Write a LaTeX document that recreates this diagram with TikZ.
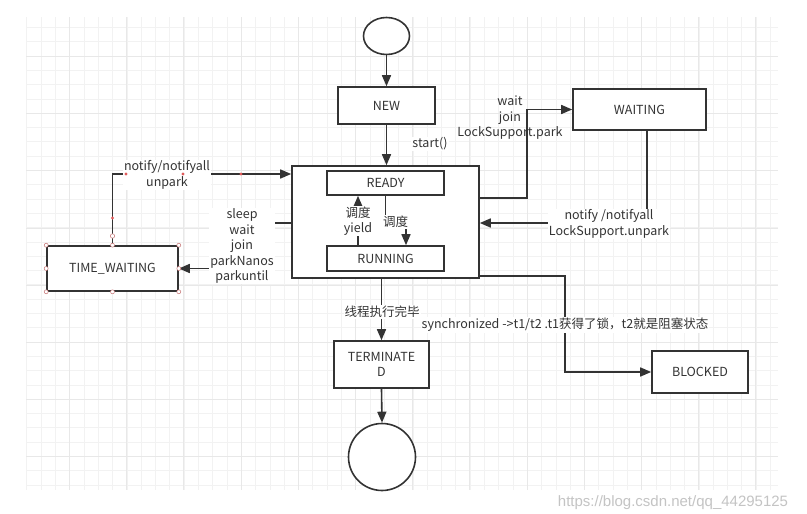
\documentclass[tikz,border=0pt]{standalone}
\usepackage{fontspec}
\setmainfont{Noto Sans CJK SC}
\newfontfamily\urlfont{Liberation Sans}
\usetikzlibrary{arrows.meta,shapes.geometric}
\definecolor{ink}{HTML}{333333}
\definecolor{gridminor}{HTML}{F2F2F2}
\definecolor{gridmajor}{HTML}{E8E8E8}
\definecolor{handle}{HTML}{C87878}
\definecolor{dotred}{HTML}{E05A5A}
\definecolor{urlgray}{HTML}{C4C4C4}
\tikzset{
  txt/.style={text=ink, font=\fontsize{12.5}{15.5}\selectfont},
  box/.style={draw=ink, line width=1.6pt, fill=white, inner sep=0pt, txt, align=center},
  lbl/.style={fill=white, inner sep=1pt, txt, align=center},
  arr/.style={draw=ink, line width=1.6pt, -{Triangle[length=11pt,width=9pt]}},
  plain/.style={draw=ink, line width=1.6pt},
  hdl/.style={draw=handle, line width=0.5pt, fill=white},
  rdot/.style={fill=dotred},
}
\begin{document}
\begin{tikzpicture}[x=1pt,y=-1pt]
\useasboundingbox (0,0) rectangle (807,514);
\fill[white] (0,0) rectangle (807,514);
% grid
\begin{scope}
\clip (26,17) rectangle (778,490);
\foreach \i in {0,...,53} {\draw[gridminor, line width=0.5pt] ({26.7+14.3*\i},17) -- ({26.7+14.3*\i},490);}
\foreach \i in {-1,...,33} {\draw[gridminor, line width=0.5pt] (26,{27.3+14.3*\i}) -- (778,{27.3+14.3*\i});}
\foreach \i in {-1,...,13} {\draw[gridmajor, line width=0.6pt] ({69.3+57.2*\i},17) -- ({69.3+57.2*\i},490);}
\foreach \i in {-1,...,8} {\draw[gridmajor, line width=0.6pt] (26,{56.3+57.2*\i}) -- (778,{56.3+57.2*\i});}
\end{scope}

% nodes
\node[box, ellipse, minimum width=46pt, minimum height=37pt] (start) at (386.5,36) {};
\node[box, minimum width=97pt, minimum height=37pt] (new) at (386.5,105.5) {NEW};
\node[box, minimum width=187pt, minimum height=112pt] (outer) at (385.5,222) {};
\node[box, minimum width=117pt, minimum height=24pt] (ready) at (385.5,183) {READY};
\node[box, minimum width=117pt, minimum height=25pt] (running) at (385.5,258.5) {RUNNING};
\node[box, minimum width=133pt, minimum height=41pt] (waiting) at (639.5,109.5) {WAITING};
\node[box, minimum width=131pt, minimum height=45pt] (tw) at (112.5,268.5) {TIME\_WAITING};
\node[box, minimum width=95pt, minimum height=47pt] (term) at (381.5,364.5) {TERMINATE\\D};
\node[box, minimum width=96pt, minimum height=42pt] (blocked) at (700,372) {BLOCKED};
\node[box, circle, minimum size=67pt] (end) at (382,457) {};

% helper coordinates
\coordinate (p1) at (527,198);
\coordinate (q1) at (647,223);
\coordinate (r1) at (240,223);
\coordinate (s1) at (112.5,174);
\coordinate (t1) at (358,220);
\coordinate (u1) at (406,222);
\coordinate (v1) at (565,276);

% connectors
\draw[arr] (start.south) -- (new.north);
\draw[arr] (new.south) -- (new.south |- outer.north);
\node[lbl] (lstart) at (430,144) {start()};

\draw[arr] (p1 -| outer.east) -- (p1) |- (waiting.west);
\node[lbl, fill=none] (lwait) at (510,118) {wait\\join\\LockSupport.park};

\draw[arr] (q1 |- waiting.south) -- (q1) -- (q1 -| outer.east);
\node[lbl] (lnotify) at (609,224) {notify /notifyall\\LockSupport.unpark};

\draw[arr] (r1 -| outer.west) -- (r1) |- (tw.east);
\node[lbl] (lsleep) at (242,246) {sleep\\wait\\join\\parkNanos\\parkuntil};

\draw[arr] (tw.north) |- (s1 -| outer.west);
\node[lbl] (ltw) at (167,175) {notify/notifyall\\unpark};

\draw[arr] (t1 |- running.north) -- (t1 |- ready.south);
\node[lbl] (lyield) at (358,221) {调度\\yield};

\draw[arr] (ready.south) |- (u1) -- (u1 |- running.north);
\node[lbl] (ldd) at (395.5,222) {调度};

\draw[arr] (term.north |- outer.south) -- (term.north);
\node[lbl] (lend) at (382,312) {线程执行完毕};

\draw[arr] (term.south) -- (end.north);

\draw[arr] (v1 -| outer.east) -- (v1) |- (blocked.west);
\node[lbl] (lsync) at (565,325) {synchronized ->t1/t2 .t1获得了锁，t2就是阻塞状态};

% selection handles on TIME_WAITING and its edge
\foreach \a in {north west,north,north east,west,east,south west,south,south east}
  {\draw[hdl] (tw.\a) circle (2pt);}
\draw[hdl] (112.5,236) circle (2.2pt);
\fill[rdot] (112.5,218) circle (1.6pt);
\fill[rdot] (126,174) circle (1.6pt);
\fill[rdot] (183,174) circle (1.6pt);
\fill[rdot] (241,174) circle (1.6pt);

% url
\node[text=urlgray, font=\urlfont\fontsize{15}{17}\selectfont, inner sep=0pt] (url) at (673,503) {https://blog.csdn.net/qq\_44295125};
\end{tikzpicture}
\end{document}
